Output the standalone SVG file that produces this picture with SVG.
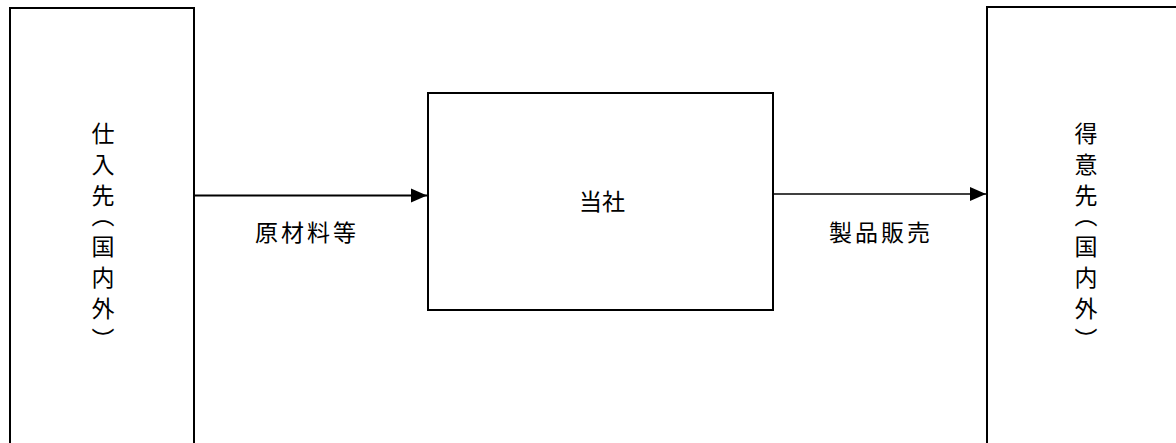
<svg xmlns="http://www.w3.org/2000/svg" width="1176" height="443" viewBox="0 0 1176 443">
<style>
.box{fill:#fff;stroke:#000;stroke-width:2}
.lbl{font-family:"Noto Sans CJK JP","Noto Sans CJK SC",sans-serif;font-size:23px;fill:#000;text-anchor:middle}
.vt{font-family:"Noto Sans CJK JP","Noto Sans CJK SC",sans-serif;font-size:23px;fill:#000;writing-mode:vertical-rl;letter-spacing:8px;font-feature-settings:"vhal" 1}
.conn{stroke:#000;fill:none}
</style>
<defs>
<marker id="arr" markerUnits="userSpaceOnUse" markerWidth="17" markerHeight="16" refX="16" refY="8" orient="auto">
<path d="M0,1 L16,8 L0,15 Z" fill="#000"/>
</marker>
</defs>
<rect width="1176" height="443" fill="#fff"/>
<g id="node-supplier">
<rect class="box" x="10" y="8" width="184" height="445"/>
<text class="vt" x="103" y="122">仕入先（国内外）</text>
</g>
<g id="node-company">
<rect class="box" x="428" y="93" width="345" height="217"/>
<text class="lbl" x="602" y="210">当社</text>
</g>
<g id="node-customer">
<rect class="box" x="987" y="7" width="200" height="446"/>
<text class="vt" x="1086" y="122">得意先（国内外）</text>
</g>
<g id="connectors">
<path class="conn" d="M194,195.5 H427" stroke-width="2" marker-end="url(#arr)"/>
<path class="conn" d="M773,194 H986" stroke-width="1.5" marker-end="url(#arr)"/>
<text class="lbl" x="307" y="241" letter-spacing="3">原材料等</text>
<text class="lbl" x="881" y="241" letter-spacing="3">製品販売</text>
</g>
</svg>
